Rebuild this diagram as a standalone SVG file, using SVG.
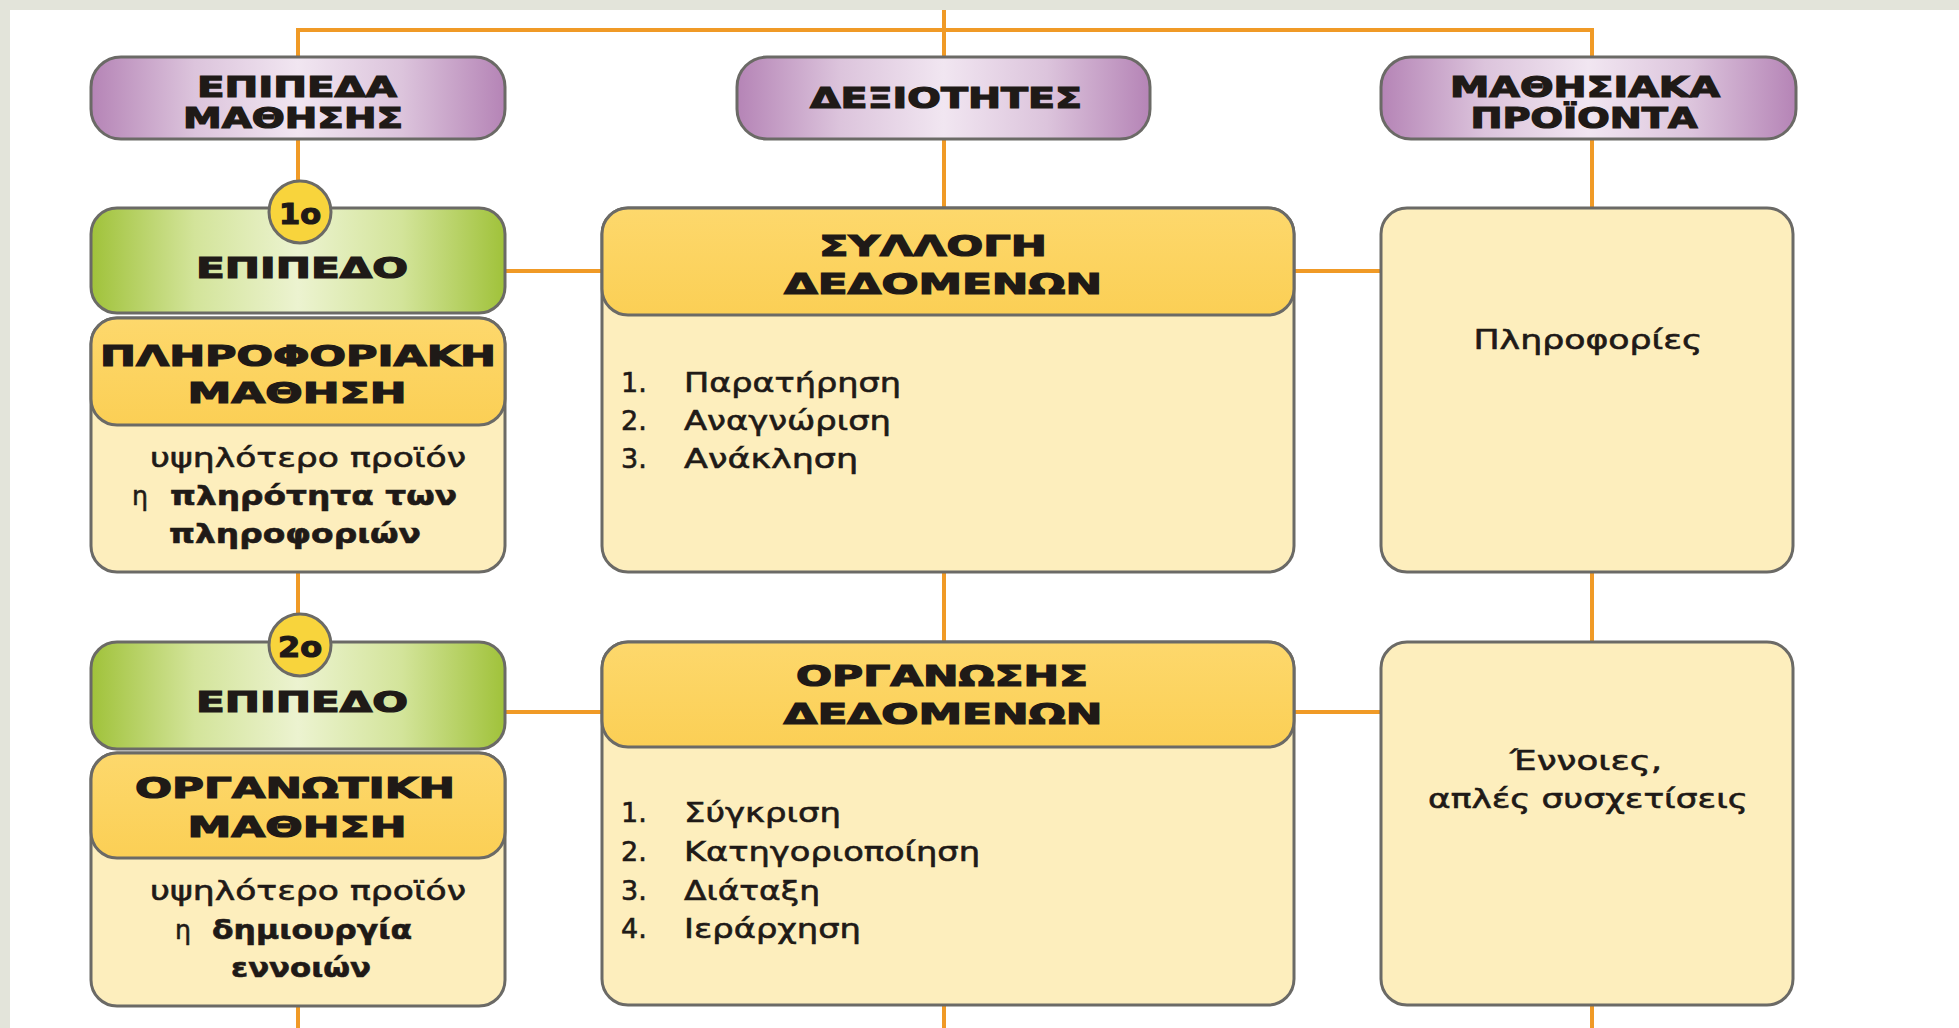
<svg xmlns="http://www.w3.org/2000/svg" width="1959" height="1028" viewBox="0 0 1959 1028">
  <defs>
    <linearGradient id="gPurple" x1="0" y1="0" x2="1" y2="0">
      <stop offset="0" stop-color="#b584b6"/>
      <stop offset="0.25" stop-color="#dcc4dc"/>
      <stop offset="0.5" stop-color="#f1e6f1"/>
      <stop offset="0.75" stop-color="#dcc4dc"/>
      <stop offset="1" stop-color="#b584b6"/>
    </linearGradient>
    <linearGradient id="gGreen" x1="0" y1="0" x2="1" y2="0">
      <stop offset="0" stop-color="#a0c23a"/>
      <stop offset="0.25" stop-color="#d3e49a"/>
      <stop offset="0.5" stop-color="#ecf3d0"/>
      <stop offset="0.75" stop-color="#d3e49a"/>
      <stop offset="1" stop-color="#a0c23a"/>
    </linearGradient>
    <linearGradient id="gHead" x1="0" y1="0" x2="0" y2="1">
      <stop offset="0" stop-color="#fdd86c"/>
      <stop offset="1" stop-color="#fbcf55"/>
    </linearGradient>
    <style>
      .bg { fill: #e3e4da; }
      .conn { stroke: #f09a26; stroke-width: 4; fill: none; }
      .box { stroke: #6b6a66; stroke-width: 3; }
      .purple { fill: url(#gPurple); }
      .green { fill: url(#gGreen); }
      .head { fill: url(#gHead); }
      .body { fill: #fdeebd; }
      .badge { fill: #f8d43c; stroke: #6b6a66; stroke-width: 3; }
      .cap { font-family: "DejaVu Sans", "Liberation Sans", sans-serif; font-weight: bold; font-size: 28px; fill: #1f1a17; stroke: #1f1a17; stroke-width: 1.2; text-anchor: middle; }
      .txt { font-family: "DejaVu Sans", "Liberation Sans", sans-serif; font-size: 27px; fill: #1f1a17; stroke: #1f1a17; stroke-width: 0.6; }
      .txtb { font-family: "DejaVu Sans", "Liberation Sans", sans-serif; font-weight: bold; font-size: 27px; fill: #1f1a17; stroke: #1f1a17; stroke-width: 0.6; }
      .mid { text-anchor: middle; }
    </style>
  </defs>

  <rect x="0" y="0" width="1959" height="1028" fill="#ffffff"/>
  <rect class="bg" x="0" y="0" width="1959" height="10"/>
  <rect class="bg" x="0" y="0" width="10" height="1028"/>

  <g id="connectors">
    <polyline class="conn" points="298,57 298,30 1592,30 1592,57"/>
    <line class="conn" x1="944" y1="10" x2="944" y2="57"/>
    <line class="conn" x1="298" y1="139" x2="298" y2="208"/>
    <line class="conn" x1="944" y1="139" x2="944" y2="208"/>
    <line class="conn" x1="1592" y1="139" x2="1592" y2="208"/>
    <line class="conn" x1="505" y1="271" x2="602" y2="271"/>
    <line class="conn" x1="1294" y1="271" x2="1381" y2="271"/>
    <line class="conn" x1="298" y1="572" x2="298" y2="642"/>
    <line class="conn" x1="944" y1="572" x2="944" y2="642"/>
    <line class="conn" x1="1592" y1="572" x2="1592" y2="642"/>
    <line class="conn" x1="505" y1="712" x2="602" y2="712"/>
    <line class="conn" x1="1294" y1="712" x2="1381" y2="712"/>
    <line class="conn" x1="298" y1="1006" x2="298" y2="1028"/>
    <line class="conn" x1="944" y1="1005" x2="944" y2="1028"/>
    <line class="conn" x1="1592" y1="1005" x2="1592" y2="1028"/>
  </g>

  <g id="hdr-levels">
    <rect class="box purple" x="91" y="57" width="414" height="82" rx="30"/>
    <text class="cap" x="297" y="97" textLength="200" lengthAdjust="spacingAndGlyphs">ΕΠΙΠΕΔΑ</text>
    <text class="cap" x="293" y="128" textLength="220" lengthAdjust="spacingAndGlyphs">ΜΑΘΗΣΗΣ</text>
  </g>
  <g id="hdr-skills">
    <rect class="box purple" x="737" y="57" width="413" height="82" rx="30"/>
    <text class="cap" x="946" y="108" textLength="272" lengthAdjust="spacingAndGlyphs">ΔΕΞΙΟΤΗΤΕΣ</text>
  </g>
  <g id="hdr-products">
    <rect class="box purple" x="1381" y="57" width="415" height="82" rx="30"/>
    <text class="cap" x="1585" y="97" textLength="270" lengthAdjust="spacingAndGlyphs">ΜΑΘΗΣΙΑΚΑ</text>
    <text class="cap" x="1584" y="128" textLength="227" lengthAdjust="spacingAndGlyphs">ΠΡΟΪΟΝΤΑ</text>
  </g>

  <g id="level1">
    <rect class="box green" x="91" y="208" width="414" height="105" rx="26"/>
    <text class="cap" x="302" y="278" textLength="212" lengthAdjust="spacingAndGlyphs">ΕΠΙΠΕΔΟ</text>
    <circle class="badge" cx="300" cy="212" r="31"/>
    <text class="cap" x="300" y="224" font-size="30" textLength="42" lengthAdjust="spacingAndGlyphs">1ο</text>
  </g>
  <g id="info-learning">
    <rect class="box body" x="91" y="318" width="414" height="254" rx="26"/>
    <rect class="box head" x="91" y="318" width="414" height="107" rx="26"/>
    <text class="cap" x="298" y="366" textLength="396" lengthAdjust="spacingAndGlyphs">ΠΛΗΡΟΦΟΡΙΑΚΗ</text>
    <text class="cap" x="297" y="403" textLength="219" lengthAdjust="spacingAndGlyphs">ΜΑΘΗΣΗ</text>
    <text class="txt mid" x="308" y="467" textLength="316" lengthAdjust="spacingAndGlyphs">υψηλότερο προϊόν</text>
    <text class="txt" x="132" y="505" textLength="16" lengthAdjust="spacingAndGlyphs">η</text>
    <text class="txtb" x="170" y="505" textLength="287" lengthAdjust="spacingAndGlyphs">πληρότητα των</text>
    <text class="txtb mid" x="295" y="543" textLength="252" lengthAdjust="spacingAndGlyphs">πληροφοριών</text>
  </g>

  <g id="collect-data">
    <rect class="box body" x="602" y="208" width="692" height="364" rx="26"/>
    <rect class="box head" x="602" y="208" width="692" height="107" rx="26"/>
    <text class="cap" x="933" y="256" textLength="228" lengthAdjust="spacingAndGlyphs">ΣΥΛΛΟΓΗ</text>
    <text class="cap" x="943" y="294" textLength="318" lengthAdjust="spacingAndGlyphs">ΔΕΔΟΜΕΝΩΝ</text>
    <text class="txt" x="621" y="392">1.</text>
    <text class="txt" x="684" y="392" textLength="217" lengthAdjust="spacingAndGlyphs">Παρατήρηση</text>
    <text class="txt" x="621" y="430">2.</text>
    <text class="txt" x="684" y="430" textLength="207" lengthAdjust="spacingAndGlyphs">Αναγνώριση</text>
    <text class="txt" x="621" y="468">3.</text>
    <text class="txt" x="684" y="468" textLength="174" lengthAdjust="spacingAndGlyphs">Ανάκληση</text>
  </g>

  <g id="product-info">
    <rect class="box body" x="1381" y="208" width="412" height="364" rx="26"/>
    <text class="txt mid" x="1588" y="349" textLength="229" lengthAdjust="spacingAndGlyphs">Πληροφορίες</text>
  </g>

  <g id="level2">
    <rect class="box green" x="91" y="642" width="414" height="107" rx="26"/>
    <text class="cap" x="302" y="712" textLength="212" lengthAdjust="spacingAndGlyphs">ΕΠΙΠΕΔΟ</text>
    <circle class="badge" cx="300" cy="645" r="31"/>
    <text class="cap" x="300" y="657" font-size="30" textLength="44" lengthAdjust="spacingAndGlyphs">2ο</text>
  </g>
  <g id="org-learning">
    <rect class="box body" x="91" y="753" width="414" height="253" rx="26"/>
    <rect class="box head" x="91" y="753" width="414" height="105" rx="26"/>
    <text class="cap" x="295" y="798" textLength="320" lengthAdjust="spacingAndGlyphs">ΟΡΓΑΝΩΤΙΚΗ</text>
    <text class="cap" x="297" y="837" textLength="219" lengthAdjust="spacingAndGlyphs">ΜΑΘΗΣΗ</text>
    <text class="txt mid" x="308" y="900" textLength="316" lengthAdjust="spacingAndGlyphs">υψηλότερο προϊόν</text>
    <text class="txt" x="175" y="939" textLength="16" lengthAdjust="spacingAndGlyphs">η</text>
    <text class="txtb" x="212" y="939" textLength="200" lengthAdjust="spacingAndGlyphs">δημιουργία</text>
    <text class="txtb mid" x="301" y="977" textLength="140" lengthAdjust="spacingAndGlyphs">εννοιών</text>
  </g>

  <g id="organize-data">
    <rect class="box body" x="602" y="642" width="692" height="363" rx="26"/>
    <rect class="box head" x="602" y="642" width="692" height="105" rx="26"/>
    <text class="cap" x="942" y="686" textLength="292" lengthAdjust="spacingAndGlyphs">ΟΡΓΑΝΩΣΗΣ</text>
    <text class="cap" x="943" y="724" textLength="319" lengthAdjust="spacingAndGlyphs">ΔΕΔΟΜΕΝΩΝ</text>
    <text class="txt" x="621" y="822">1.</text>
    <text class="txt" x="684" y="822" textLength="157" lengthAdjust="spacingAndGlyphs">Σύγκριση</text>
    <text class="txt" x="621" y="861">2.</text>
    <text class="txt" x="684" y="861" textLength="296" lengthAdjust="spacingAndGlyphs">Κατηγοριοποίηση</text>
    <text class="txt" x="621" y="900">3.</text>
    <text class="txt" x="684" y="900" textLength="136" lengthAdjust="spacingAndGlyphs">Διάταξη</text>
    <text class="txt" x="621" y="938">4.</text>
    <text class="txt" x="684" y="938" textLength="177" lengthAdjust="spacingAndGlyphs">Ιεράρχηση</text>
  </g>

  <g id="product-concepts">
    <rect class="box body" x="1381" y="642" width="412" height="363" rx="26"/>
    <text class="txt mid" x="1586" y="770" textLength="152" lengthAdjust="spacingAndGlyphs">Έννοιες,</text>
    <text class="txt mid" x="1588" y="808" textLength="320" lengthAdjust="spacingAndGlyphs">απλές συσχετίσεις</text>
  </g>
</svg>
